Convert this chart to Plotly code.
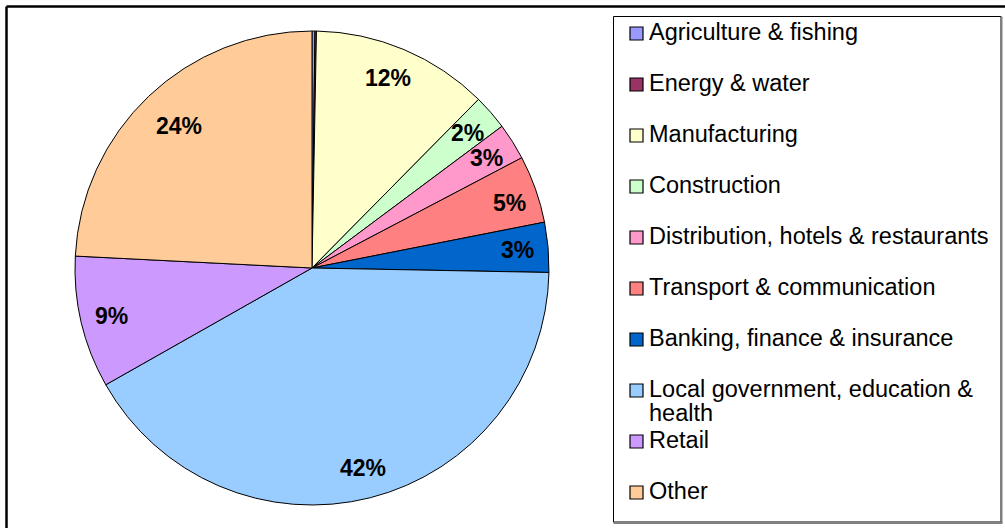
import math
import plotly.graph_objects as go

labels = ["Agriculture & fishing", "Energy & water", "Manufacturing", "Construction",
          "Distribution, hotels & restaurants", "Transport & communication",
          "Banking, finance & insurance", "Local government, education & health",
          "Retail", "Other"]
values = [0.2, 0.1, 12.1, 2.4, 2.5, 4.6, 3.4, 41.5, 9.0, 24.2]
colors = ["#9999FF", "#993366", "#FFFFCC", "#CCFFCC", "#FF99CC", "#FF8080",
          "#0066CC", "#99CCFF", "#CC99FF", "#FFCC99"]

# small label placement tweaks (pixels), layout only
label_nudge = {"Other": (9, 7), "Manufacturing": (-4, 0), "Transport & communication": (3, 4)}

W, H = 1005, 528
CX, CY, R = 312, 268, 237

def px(x):
    return x / W

def py(y):
    return (H - y) / H

fig = go.Figure()
fig.add_trace(go.Pie(
    labels=labels, values=values, sort=False, direction="clockwise", rotation=0,
    marker=dict(colors=colors, line=dict(color="black", width=1)),
    textinfo="none", hoverinfo="label+percent", showlegend=False,
    domain=dict(x=[px(CX - R), px(CX + R)], y=[py(CY + R), py(CY - R)]),
))

annotations = []
shapes = []
font_family = "Liberation Sans, Arial, sans-serif"

# percentage labels computed from the data
total = sum(values)
cum = 0.0
for lab, v in zip(labels, values):
    pct = round(v / total * 100, 6)
    mid = (cum + v / 2) / total * 2 * math.pi
    cum += v
    if pct < 1:
        continue
    rr = 0.87 * R
    dx, dy = label_nudge.get(lab, (0, 0))
    x = CX + rr * math.sin(mid) + dx
    y = CY - rr * math.cos(mid) + dy
    annotations.append(dict(
        x=px(x), y=py(y), xref="paper", yref="paper", showarrow=False,
        text="<b>%d%%</b>" % int(pct + 0.5),
        font=dict(family=font_family, size=23, color="black"),
        xanchor="center", yanchor="middle"))

# outer frame (left and top)
shapes.append(dict(type="line", xref="paper", yref="paper",
                   x0=px(6.5), y0=py(528), x1=px(6.5), y1=py(6.5),
                   line=dict(color="black", width=2.5)))
shapes.append(dict(type="line", xref="paper", yref="paper",
                   x0=px(6.5), y0=py(6.5), x1=px(1005), y1=py(6.5),
                   line=dict(color="black", width=2.5)))

# legend box
LX0, LY0, LX1, LY1 = 613.5, 16.5, 1001, 522
shapes.append(dict(type="rect", xref="paper", yref="paper",
                   x0=px(LX0), y0=py(LY1), x1=px(LX1), y1=py(LY0),
                   line=dict(color="black", width=1), fillcolor="white", layer="below"))
shapes.append(dict(type="line", xref="paper", yref="paper",
                   x0=px(LX1 + 0.5), y0=py(LY0), x1=px(LX1 + 0.5), y1=py(LY1 + 1),
                   line=dict(color="#808080", width=2)))
shapes.append(dict(type="line", xref="paper", yref="paper",
                   x0=px(LX0), y0=py(LY1 + 1), x1=px(LX1 + 1.5), y1=py(LY1 + 1),
                   line=dict(color="#808080", width=2)))

ROW0, STEP, WRAP_GAP = 32, 51, 24
legend_font = dict(family=font_family, size=23.5, color="black")
for i, (lab, col) in enumerate(zip(labels, colors)):
    cy = ROW0 + STEP * i
    shapes.append(dict(type="rect", xref="paper", yref="paper",
                       x0=px(630), x1=px(643), y0=py(cy + 8), y1=py(cy - 5),
                       fillcolor=col, line=dict(color="black", width=1.2)))
    # wrap the long label as in the reference
    if lab.endswith("education & health"):
        lines = [lab[: -len(" health")], "health"]
    else:
        lines = [lab]
    for k, line in enumerate(lines):
        annotations.append(dict(
            x=px(647), y=py(cy + WRAP_GAP * k), xref="paper", yref="paper",
            showarrow=False, text=line, align="left", xanchor="left",
            yanchor="middle", font=legend_font))

fig.update_layout(
    width=W, height=H, margin=dict(l=0, r=0, t=0, b=0),
    paper_bgcolor="white", plot_bgcolor="white",
    shapes=shapes, annotations=annotations, showlegend=False,
)

fig.write_html("out.html", config={"displayModeBar": False},
               post_script="document.body.style.margin='0';document.body.style.overflow='hidden';")
